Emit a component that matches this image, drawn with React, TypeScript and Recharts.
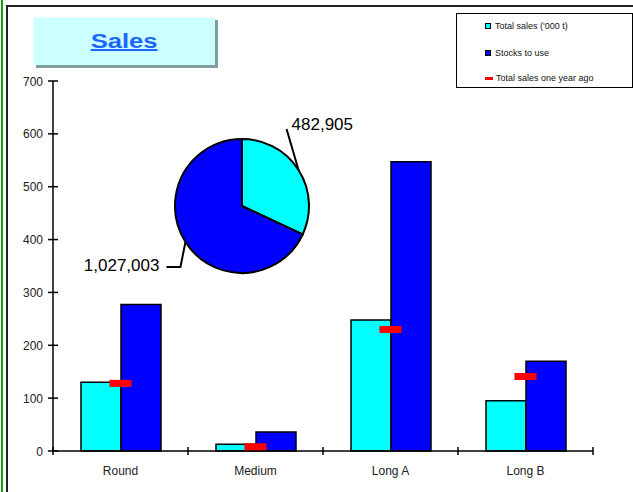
import React from "react";
import { ComposedChart, Bar, Line, XAxis, YAxis, Legend, PieChart, Pie, Cell } from "recharts";

const categories = ["Round", "Medium", "Long A", "Long B"];
const totalSales = [130, 13, 248, 95];
const stocksToUse = [277, 36, 547, 170];
const salesYearAgo = [128, 8, 230, 141];
const yTicks = [0, 100, 200, 300, 400, 500, 600, 700];
const seriesNames = ["Total sales ('000 t)", "Stocks to use", "Total sales one year ago"];
const pieNames = ["Total sales", "Stocks to use"];
const pieValues = [482905, 1027003];

const data = categories.map((c, i) => ({
  name: c,
  total: totalSales[i],
  stocks: stocksToUse[i],
  ago: salesYearAgo[i],
}));
const pieData = pieNames.map((n, i) => ({ name: n, value: pieValues[i] }));

const FONT = "'Liberation Sans', Arial, sans-serif";
const CYAN = "#00FFFF";
const BLUE = "#0000FF";
const RED = "#FF0000";
const BAND_HALF = 67.5;

const YTick = (p: any) => (
  <g>
    <line x1={48} x2={58} y1={p.y} y2={p.y} stroke="#000" strokeWidth={1.5} />
    <text x={43} y={p.y} dy={4.5} textAnchor="end" fontSize={12} fill="#222" fontFamily={FONT}>
      {p.payload.value}
    </text>
  </g>
);

const XTick = (p: any) => (
  <g>
    <line x1={p.x - BAND_HALF} x2={p.x - BAND_HALF} y1={447} y2={455} stroke="#000" strokeWidth={1.5} />
    {p.index === categories.length - 1 && (
      <line x1={p.x + BAND_HALF} x2={p.x + BAND_HALF} y1={447} y2={455} stroke="#000" strokeWidth={1.5} />
    )}
    <text x={p.x} y={475} textAnchor="middle" fontSize={12} fill="#222" fontFamily={FONT}>
      {p.payload.value}
    </text>
  </g>
);

const RedMark = (p: any) => {
  if (p.cx == null || p.cy == null) return <g key={p.index} />;
  return <rect key={p.index} x={p.cx - 11} y={p.cy - 3.5} width={22} height={7} fill={RED} />;
};

const LegendContent = (props: any) => {
  const items = [...(props.payload || [])].sort(
    (a: any, b: any) => seriesNames.indexOf(a.value) - seriesNames.indexOf(b.value)
  );
  const ys = [12, 39, 64];
  return (
    <div
      style={{
        position: "relative",
        width: 177,
        height: 75,
        border: "1.5px solid #000",
        boxSizing: "border-box",
        background: "#fff",
        fontFamily: FONT,
        fontSize: 9,
        color: "#111",
      }}
    >
      {items.map((it: any, i: number) => (
        <div key={it.value} style={{ position: "absolute", left: 28, top: ys[i] - 6, height: 12, display: "flex", alignItems: "center" }}>
          {i < 2 ? (
            <span style={{ display: "inline-block", width: 4, height: 4, background: it.color, border: "1px solid #000", marginRight: 4 }} />
          ) : (
            <span style={{ display: "inline-block", width: 8, height: 3, background: it.color, marginRight: 3 }} />
          )}
          <span style={{ whiteSpace: "nowrap" }}>{it.value}</span>
        </div>
      ))}
    </div>
  );
};

const RAD = Math.PI / 180;
const PieLabel = (p: any) => {
  const ex = p.cx + p.outerRadius * Math.cos(-p.midAngle * RAD);
  const ey = p.cy + p.outerRadius * Math.sin(-p.midAngle * RAD);
  const txt = Number(p.value).toLocaleString("en-US");
  if (p.index === 0) {
    const tx = ex - 12;
    const ty = ey - 41;
    return (
      <g>
        <polyline points={`${ex},${ey} ${tx},${ty}`} fill="none" stroke="#000" strokeWidth={2} />
        <text x={tx + 5} y={ty + 1} fontSize={17} fill="#000" fontFamily={FONT}>{txt}</text>
      </g>
    );
  }
  const bx = ex - 5;
  const by = ey + 25;
  return (
    <g>
      <polyline points={`${ex},${ey} ${bx},${by} ${bx - 14},${by}`} fill="none" stroke="#000" strokeWidth={2} />
      <text x={bx - 21} y={by + 4} textAnchor="end" fontSize={17} fill="#000" fontFamily={FONT}>{txt}</text>
    </g>
  );
};

export default function App() {
  return (
    <div style={{ position: "absolute", left: 0, top: 0, width: 633, height: 492, background: "#fff", overflow: "hidden" }}>
      <div style={{ position: "absolute", left: 1, top: 0, width: 2, height: 492, background: "#12a012" }} />
      <div style={{ position: "absolute", left: 6, top: 5, width: 700, height: 600, borderLeft: "2px solid #222", borderTop: "2px solid #222" }} />
      <div style={{ position: "absolute", left: 0, top: 0 }}>
        <ComposedChart
          width={633}
          height={492}
          data={data}
          margin={{ top: 81, right: 40, bottom: 11, left: 0 }}
          barGap={0}
          barCategoryGap={28}
        >
          <XAxis dataKey="name" height={30} axisLine={{ stroke: "#000", strokeWidth: 1.5 }} tickLine={false} tick={<XTick />} interval={0} />
          <YAxis width={53} domain={[0, 700]} ticks={yTicks} axisLine={{ stroke: "#000", strokeWidth: 1.5 }} tickLine={false} tick={<YTick />} interval={0} />
          <Bar dataKey="total" name={seriesNames[0]} fill={CYAN} stroke="#000" strokeWidth={1.5} isAnimationActive={false} />
          <Bar dataKey="stocks" name={seriesNames[1]} fill={BLUE} stroke="#000" strokeWidth={1.5} isAnimationActive={false} />
          <Line dataKey="ago" name={seriesNames[2]} stroke={RED} strokeWidth={0} dot={RedMark} activeDot={false} isAnimationActive={false} />
          <Legend
            layout="vertical"
            align="center"
            verticalAlign="middle"
            content={<LegendContent />}
            wrapperStyle={{ left: 456, top: 13, width: 177, height: 75 }}
          />
        </ComposedChart>
      </div>
      <div style={{ position: "absolute", left: 0, top: 0 }}>
        <PieChart width={633} height={492} margin={{ top: 0, right: 0, bottom: 0, left: 0 }}>
          <Pie
            data={pieData}
            dataKey="value"
            nameKey="name"
            cx={242}
            cy={206}
            outerRadius={67}
            startAngle={90}
            endAngle={-270}
            stroke="#000"
            strokeWidth={2}
            label={PieLabel}
            labelLine={false}
            isAnimationActive={false}
          >
            {pieData.map((d, i) => (
              <Cell key={d.name} fill={i === 0 ? CYAN : BLUE} />
            ))}
          </Pie>
        </PieChart>
      </div>
      <div
        style={{
          position: "absolute",
          left: 33,
          top: 17,
          width: 182,
          height: 48,
          background: "#CCFFFF",
          boxShadow: "3px 3px 0 #7f9f9f",
          borderTop: "1px solid #eaffff",
          borderLeft: "1px solid #eaffff",
          boxSizing: "border-box",
          textAlign: "center",
          lineHeight: "46px",
          fontFamily: FONT,
          fontWeight: "bold",
          fontSize: 20,
          color: "#1a66ff",
        }}
      >
        <span style={{ display: "inline-block", textDecoration: "underline", transform: "scaleX(1.28)", transformOrigin: "center" }}>
          Sales
        </span>
      </div>
    </div>
  );
}
